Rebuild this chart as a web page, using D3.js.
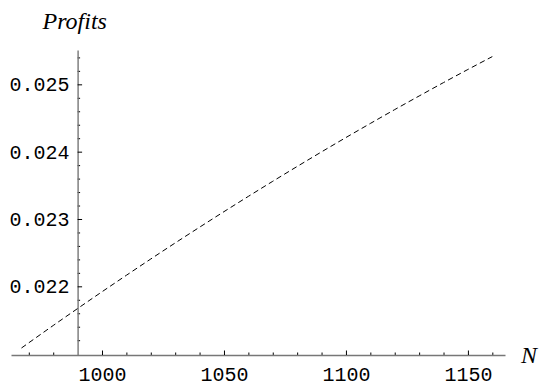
<!DOCTYPE html>
<html>
<head>
<meta charset="utf-8">
<script src="https://cdn.jsdelivr.net/npm/d3@7"></script>
<style>
  html, body { margin: 0; padding: 0; background: #fff; }
  svg { display: block; }
</style>
</head>
<body>
<svg id="chart" width="541" height="387"></svg>
<script>
// Data
const nValues = [967, 980, 990, 1000, 1010, 1020, 1030, 1040, 1050, 1060, 1070,
                 1080, 1090, 1100, 1110, 1120, 1130, 1140, 1150, 1160];
const profitValues = [0.021084, 0.021418, 0.021670, 0.021919, 0.022164, 0.022406,
                      0.022644, 0.022878, 0.023109, 0.023336, 0.023560, 0.023780,
                      0.023997, 0.024210, 0.024419, 0.024625, 0.024827, 0.025026,
                      0.025221, 0.025412];
const xMajorTicks = [1000, 1050, 1100, 1150];
const xMinorTicks = [970, 980, 1010, 1020, 1030, 1040, 1060, 1070, 1080, 1090,
                     1110, 1120, 1130, 1140, 1160];
const yMajorTicks = [0.022, 0.023, 0.024, 0.025];
const yMinorTicks = [0.0212, 0.0214, 0.0216, 0.0218, 0.0222, 0.0224, 0.0226, 0.0228,
                     0.0232, 0.0234, 0.0236, 0.0238, 0.0242, 0.0244, 0.0246, 0.0248,
                     0.0252, 0.0254];
const xAxisOrigin = 990;
const xLabel = "N";
const yLabel = "Profits";

const svg = d3.select("#chart");

const x = d3.scaleLinear().domain([962.7, 1165.2]).range([11, 505]);
const y = d3.scaleLinear().domain([0.02098, 0.02551]).range([355, 50]);

const axisColor = "#777";
const monoFont = "'Liberation Mono', 'DejaVu Sans Mono', monospace";

// ---- X axis ----
const xAxisY = y.range()[0];
const gx = svg.append("g").attr("transform", `translate(0,${xAxisY})`);
gx.append("g")
  .call(d3.axisBottom(x).tickValues(xMinorTicks).tickSize(-2.5).tickSizeOuter(0).tickFormat(""))
  .call(g => g.select(".domain").remove());
gx.append("g")
  .call(d3.axisBottom(x).tickValues(xMajorTicks).tickSize(-4.5).tickSizeOuter(0)
        .tickPadding(12).tickFormat(d3.format("d")))
  .call(g => g.select(".domain").attr("stroke", axisColor).attr("stroke-width", 1.4))
  .call(g => g.selectAll("text").attr("font-family", monoFont).attr("font-size", 20).attr("fill", "#000"));
gx.selectAll(".tick line").attr("stroke", "#000").attr("stroke-width", 1);

// ---- Y axis ----
const yAxisX = x(xAxisOrigin);
const gy = svg.append("g").attr("transform", `translate(${yAxisX},0)`);
gy.append("g")
  .call(d3.axisLeft(y).tickValues(yMinorTicks).tickSize(-2.5).tickSizeOuter(0).tickFormat(""))
  .call(g => g.select(".domain").remove());
gy.append("g")
  .call(d3.axisLeft(y).tickValues(yMajorTicks).tickSize(-4.5).tickSizeOuter(0)
        .tickPadding(8).tickFormat(d3.format(".3f")))
  .call(g => g.select(".domain").attr("stroke", axisColor).attr("stroke-width", 1.4))
  .call(g => g.selectAll("text").attr("font-family", monoFont).attr("font-size", 20).attr("fill", "#000"));
gy.selectAll(".tick line").attr("stroke", "#000").attr("stroke-width", 1);

// ---- Axis labels ----
svg.append("text")
  .attr("x", 42.5).attr("y", 28.5)
  .attr("font-family", "'Liberation Serif', 'Times New Roman', serif")
  .attr("font-style", "italic").attr("font-size", 24)
  .text(yLabel);
svg.append("text")
  .attr("x", 521).attr("y", 362.5)
  .attr("font-family", "'Liberation Serif', 'Times New Roman', serif")
  .attr("font-style", "italic").attr("font-size", 24)
  .text(xLabel);

// ---- Curve ----
const line = d3.line()
  .x((d, i) => x(nValues[i]))
  .y(d => y(d))
  .curve(d3.curveMonotoneX);
svg.append("path")
  .datum(profitValues)
  .attr("d", line)
  .attr("fill", "none")
  .attr("stroke", "#000")
  .attr("stroke-width", 1)
  .attr("stroke-dasharray", "5.5,3.5");
</script>
</body>
</html>
